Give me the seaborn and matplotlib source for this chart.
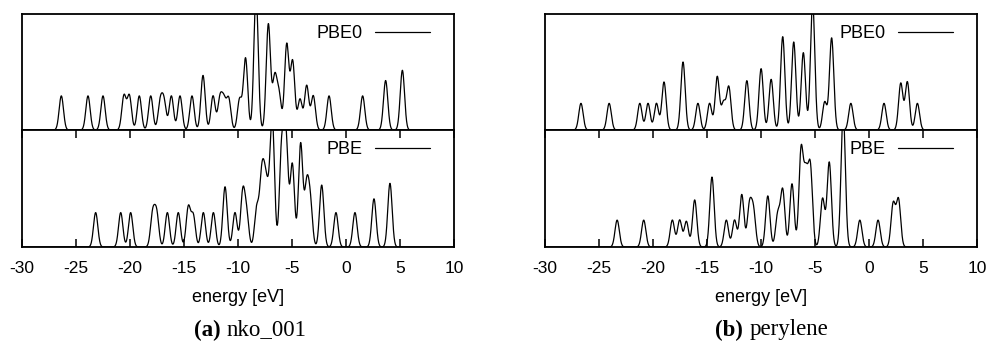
import numpy as np
import pandas as pd
import matplotlib
matplotlib.use("Agg")
import matplotlib.pyplot as plt
import seaborn as sns

# peak positions [eV] and heights (unit ~ one isolated peak)
nko_pbe0_e = [-26.36, -23.89, -22.5, -20.56, -20.06, -19.14, -18.08, -17.2, -16.85, -16.17,
              -15.37, -14.26, -13.24, -12.31, -11.67, -11.3, -10.86, -9.85, -9.3, -8.33,
              -7.19, -6.6, -6.2, -5.49, -4.94, -4.26, -3.64, -3.03, -1.57, 1.54, 3.67, 5.22]
nko_pbe0_h = [1.0, 1.0, 1.0, 1.0, 1.0, 1.0, 1.0, 0.8, 0.8, 1.0,
              1.0, 1.0, 1.6, 1.0, 0.9, 0.8, 0.9, 0.9, 2.1, 4.0,
              3.1, 1.5, 1.0, 2.5, 2.0, 0.9, 1.3, 1.0, 1.0, 1.0, 1.45, 1.75]

nko_pbe_e = [-23.18, -20.86, -19.94, -17.9, -17.53, -16.54, -15.53, -14.6, -14.14, -13.21,
             -12.28, -11.2, -10.28, -9.56, -9.2, -8.27, -7.81, -7.5, -7.2, -6.82,
             -5.96, -5.56, -4.97, -4.2, -3.64, -3.3, -2.25, -0.93, 0.83, 2.59, 4.07]
nko_pbe_h = [1.0, 1.0, 1.0, 0.95, 0.95, 1.0, 1.0, 1.15, 0.9, 1.0,
             1.0, 1.75, 1.0, 1.55, 0.9, 1.1, 1.85, 1.5, 1.0, 3.6,
             2.8, 3.1, 2.4, 3.0, 1.7, 1.2, 1.8, 1.0, 1.0, 1.4, 1.85]

per_pbe0_e = [-26.67, -24.06, -21.22, -20.46, -19.68, -18.98, -17.22, -15.84, -14.76, -14.05,
              -13.47, -12.98, -11.31, -9.99, -9.06, -7.99, -6.97, -6.08, -5.22, -4.1,
              -3.46, -1.68, 1.39, 2.94, 3.55, 4.48]
per_pbe0_h = [1.0, 1.0, 1.0, 1.0, 1.0, 1.8, 2.55, 1.0, 1.0, 2.0,
              1.0, 1.6, 1.85, 2.3, 1.9, 3.5, 3.3, 2.9, 4.8, 1.05,
              3.45, 1.0, 1.0, 1.75, 1.8, 1.0]

per_pbe_e = [-23.32, -20.86, -18.21, -17.53, -16.91, -16.14, -14.54, -13.21, -12.45, -11.78,
             -11.07, -10.7, -9.37, -8.45, -7.99, -7.13, -6.29, -5.85, -5.43, -4.3,
             -3.68, -2.39, -0.85, 0.84, 2.24, 2.73]
per_pbe_h = [1.0, 1.0, 1.0, 1.0, 0.95, 1.75, 2.6, 1.0, 1.0, 1.95,
             1.5, 1.3, 1.9, 1.2, 2.1, 2.35, 3.55, 2.5, 2.9, 1.8,
             3.15, 5.0, 1.0, 1.0, 1.6, 1.75]

xticks = [-30, -25, -20, -15, -10, -5, 0, 5, 10]
ymax_nko = 3.4
ymax_per = 4.35
sigma = 0.2

sns.set_theme(style="white")
plt.rcParams['font.family'] = ['Liberation Sans', 'DejaVu Sans']
plt.rcParams['text.color'] = 'black'
plt.rcParams['axes.labelcolor'] = 'black'
plt.rcParams['xtick.color'] = 'black'


def broaden(centers, heights):
    grid = np.linspace(-30, 10, 4001)
    c = np.asarray(centers)[:, None]
    h = np.asarray(heights)[:, None]
    dos = (h * np.exp(-(grid[None, :] - c) ** 2 / (2 * sigma ** 2))).sum(axis=0)
    return pd.DataFrame({'energy': grid, 'dos': dos})


def panel(ax, centers, heights, label, ymax, bottom, height_px):
    df = broaden(centers, heights)
    sns.lineplot(data=df, x='energy', y='dos', ax=ax, color='black', lw=0.9, label=label)
    ax.set_xlim(-30, 10)
    ax.set_ylim(0, ymax)
    ax.set_yticks([])
    ax.set_ylabel("")
    for s in ax.spines.values():
        s.set_color('black')
        s.set_linewidth(1.3)
    ax.legend(loc='center right', frameon=False, markerfirst=False,
              handlelength=3.05, handletextpad=0.7, fontsize=13,
              borderaxespad=0, borderpad=0,
              bbox_to_anchor=(1 - 24 / 432, 1 - 20 / height_px))
    if bottom:
        ax.set_xticks(xticks)
        ax.set_xticklabels([str(t) for t in xticks])
        ax.tick_params(axis='x', direction='in', length=6, width=1.1, top=True,
                       bottom=True, labelsize=12.5, pad=10)
        ax.set_xlabel("energy [eV]", fontsize=13, labelpad=9.5)
    else:
        ax.set_xticks([])
        ax.set_xlabel("")


fig = plt.figure(figsize=(9.92, 3.43), dpi=100)
lefts = [22 / 992, 545 / 992]
width = 432 / 992
top_h = 116 / 343
y_mid = 1 - 130 / 343
y_bot = 1 - 247 / 343
sets = [(nko_pbe0_e, nko_pbe0_h, nko_pbe_e, nko_pbe_h, ymax_nko),
        (per_pbe0_e, per_pbe0_h, per_pbe_e, per_pbe_h, ymax_per)]
captions = [("(a)", "nko_001"), ("(b)", "perylene")]

for left, (e0, h0, e1, h1, ym), (tag, name) in zip(lefts, sets, captions):
    ax_top = fig.add_axes([left, y_mid, width, top_h])
    ax_bot = fig.add_axes([left, y_bot, width, y_mid - y_bot])
    panel(ax_top, e0, h0, "PBE0", ym, False, 116)
    panel(ax_bot, e1, h1, "PBE", ym, True, 117)
    cx = left + width / 2
    fig.text(cx - 0.012, 1 - 330 / 343, tag + " ", ha='right', va='center',
             fontsize=16.5, fontweight='bold', family='Liberation Serif')
    fig.text(cx - 0.012, 1 - 330 / 343, name, ha='left', va='center',
             fontsize=16.5, family='Liberation Serif')

fig.savefig("out.png", dpi=100)
